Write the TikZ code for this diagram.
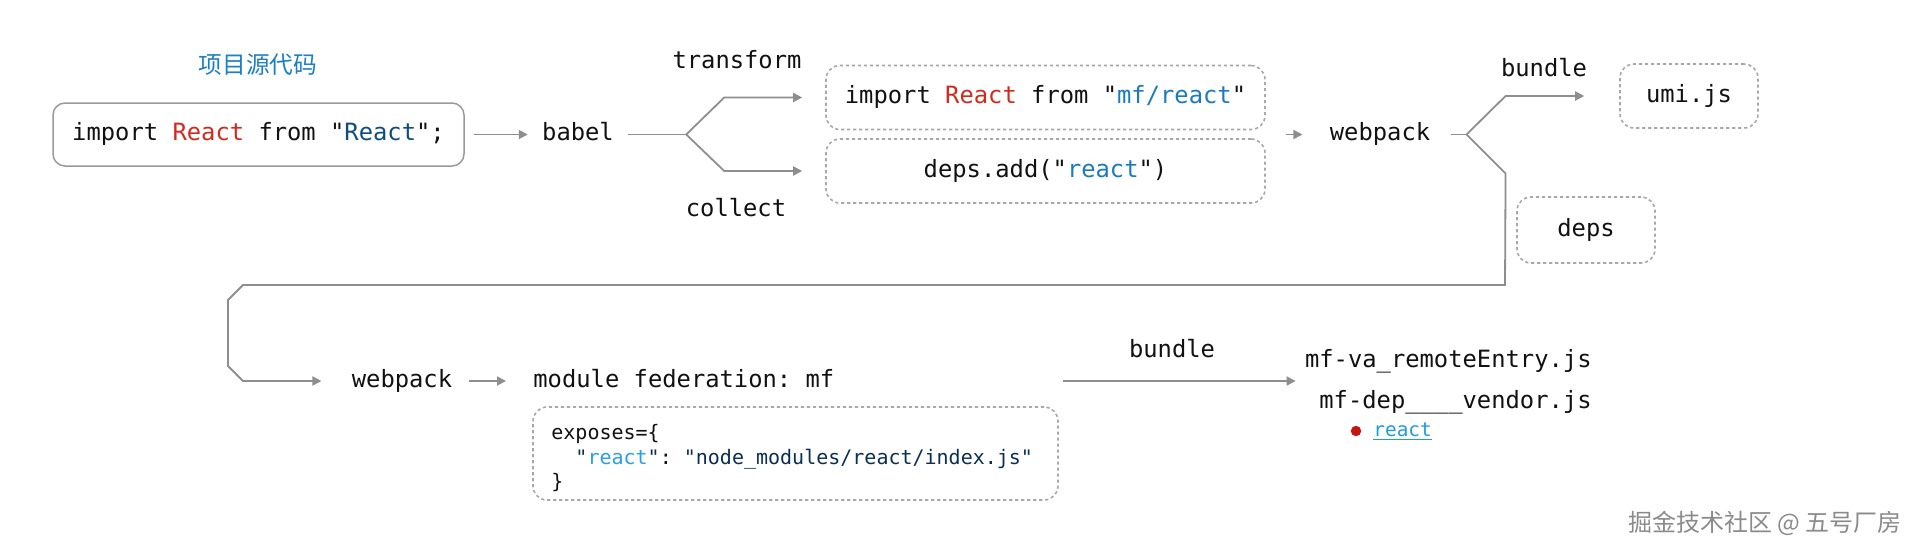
\documentclass[tikz,border=0pt]{standalone}
\usepackage{fontspec}
\setmonofont{DejaVu Sans Mono}
\newfontfamily\cjk{Noto Sans CJK SC}
\usetikzlibrary{arrows.meta,calc}
\definecolor{ink}{HTML}{111111}
\definecolor{kwred}{HTML}{D42A1E}
\definecolor{dblue}{HTML}{0F4C81}
\definecolor{mblue}{HTML}{1A7BBF}
\definecolor{titleblue}{HTML}{1C80C4}
\definecolor{lblue}{HTML}{2A9FE8}
\definecolor{navy}{HTML}{0A2E55}
\definecolor{linkblue}{HTML}{1E9BE6}
\definecolor{dotred}{HTML}{C8140F}
\definecolor{linegray}{HTML}{8E8E8E}
\definecolor{boxgray}{HTML}{9A9A9A}
\definecolor{dashgray}{HTML}{A8A8A8}
\definecolor{wmgray}{HTML}{8A8A8A}
\begin{document}
\begin{tikzpicture}[x=0.5pt,y=-0.5pt,
  mono/.style={font=\fontsize{11.9pt}{14pt}\selectfont\ttfamily, text=ink, inner sep=0pt, text height=0.62em, text depth=0pt},
  small/.style={font=\fontsize{10pt}{12pt}\selectfont\ttfamily, text=ink, inner sep=0pt, anchor=base west},
  solidbox/.style={mono, draw=boxgray, line width=0.75pt, rounded corners=6pt},
  dbox/.style={mono, draw=dashgray, line width=0.8pt, dash pattern=on 1.6pt off 1.4pt, rounded corners=7pt},
  conn/.style={draw=linegray, line width=0.9pt},
  arr/.style={conn, -{Triangle[length=4.5pt,width=4.5pt]}},
]
\useasboundingbox (0,0) rectangle (1920,553);

% title
\node[font=\cjk\fontsize{11.85pt}{14pt}\selectfont, text=titleblue, inner sep=0pt] (title) at (258,65) {项目源代码};

% first row
\node[solidbox, minimum width=205.5pt, minimum height=31.5pt] (box1) at (258.5,134.5)
  {import {\color{kwred}React} from "{\color{dblue}React}";};
\node[mono] (babel) at (578,134.5) {babel};
\node[mono] (transform) at (737,62) {transform};
\node[mono] (collect) at (736,210) {collect};
\node[dbox, minimum width=219.5pt, minimum height=32pt] (dbox1) at (1045.5,97.5)
  {import {\color{kwred}React} from "{\color{mblue}mf/react}"};
\node[dbox, minimum width=219.5pt, minimum height=32pt] (dbox2) at (1045.5,171)
  {deps.add("{\color{mblue}react}")};
\node[mono] (webpack1) at (1380,134.5) {webpack};
\node[mono] (bundle1) at (1544,70) {bundle};
\node[dbox, minimum width=69pt, minimum height=32pt] (umi) at (1689,96) {umi.js};
\node[dbox, minimum width=69pt, minimum height=33pt] (deps) at (1586,230) {deps};

% second row
\node[mono] (webpack2) at (402,381) {webpack};
\node[mono, anchor=west] (mf) at (533,381) {module federation: mf};
\node[dbox, minimum width=262.5pt, minimum height=46.5pt] (expo) at (795.5,453.5) {};
\node[small] (e1) at (551,439) {exposes=\{};
\node[small] (e2) at (551,464) {\hphantom{xx}{\color{navy}"}{\color{lblue}react}{\color{navy}"}: {\color{navy}"node\_modules/react/index.js"}};
\node[small] (e3) at (551,488) {\}};
\node[mono] (bundle2) at (1172,351) {bundle};
\node[mono, anchor=east] (remote) at (1592,361) {mf-va\_remoteEntry.js};
\node[mono, anchor=east] (vendor) at (1592,402) {mf-dep\_\_\_\_vendor.js};
\node[circle, fill=dotred, inner sep=0pt, minimum size=5.2pt] (dot) at (1356,431) {};
\node[font=\fontsize{9.7pt}{11pt}\selectfont\ttfamily, text=linkblue, inner sep=0pt, anchor=base west] (link) at (1373,436.5) {\underline{react}};

% watermark
\node[font=\cjk\fontsize{12pt}{14pt}\selectfont, text=wmgray, inner sep=0pt, anchor=east] (wm) at (1902,523) {掘金技术社区 @ 五号厂房};

% connectors
\draw[arr] ($(box1.east)+(9,0)$) -- ($(babel.west)+(-14,0)$);
\coordinate (f1) at ($(babel.east)+(72,0)$);
\path (f1) ++(38,0) coordinate (f1x);
\draw[conn] ($(babel.east)+(14,0)$) -- (f1);
\draw[arr] (f1) -- (f1x |- dbox1.west) -- ($(dbox1.west)+(-23,0)$);
\draw[arr] (f1) -- (f1x |- dbox2.west) -- ($(dbox2.west)+(-23,0)$);

\draw[arr] ($(webpack1.west)+(-43,0)$) -- ($(webpack1.west)+(-27,0)$);

\coordinate (f2) at ($(webpack1.east)+(36,0)$);
\path (f2) ++(39,0) coordinate (f2x);
\draw[conn] ($(webpack1.east)+(20,0)$) -- (f2);
\draw[arr] (f2) -- (f2x |- umi.west) -- ($(umi.west)+(-35,0)$);
\draw[arr] (f2) -- ++(39,39) -- (1505,285) -- (243,285) -- (228,300) -- (228,366) -- (243,381) -- ($(webpack2.west)+(-30,0)$);

\draw[arr] ($(webpack2.east)+(16,0)$) -- ($(mf.west)+(-27,0)$);
\coordinate (p1) at (expo.east |- mf.east);
\coordinate (p2) at (remote.west |- mf.east);
\draw[arr] ($(p1)+(4,0)$) -- ($(p2)+(-9,0)$);
\end{tikzpicture}
\end{document}
